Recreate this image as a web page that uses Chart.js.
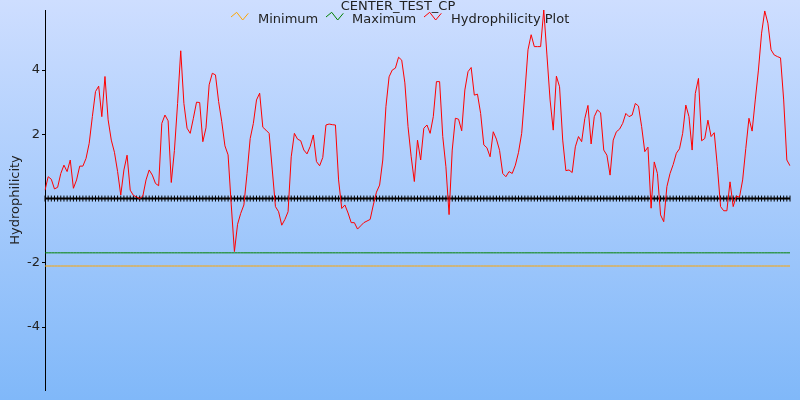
<!DOCTYPE html>
<html>
<head>
<meta charset="utf-8">
<script src="https://cdn.jsdelivr.net/npm/chart.js@4"></script>
<style>
  body { margin: 0; }
  #wrap {
    position: relative;
    width: 800px;
    height: 400px;
    background: linear-gradient(#cedeff, #80b8f9);
    font-family: "DejaVu Sans", sans-serif;
    font-size: 13px;
    color: #222;
  }
  #chart { position: absolute; left: 0; top: 0; }
  #title { position: absolute; top: -2px; left: 0; width: 796px; text-align: center; line-height: 15px; }
  .item { position: absolute; top: 11px; line-height: 15px; white-space: nowrap; }
  .icon { position: absolute; top: 11px; }
</style>
</head>
<body>
<div id="wrap">
  <canvas id="chart" width="800" height="400"></canvas>
  <div id="title">CENTER_TEST_CP</div>
  <svg class="icon" style="left:230px" width="20" height="11"><polyline points="1,6 6.7,1.3 12.7,9 18.3,2.3" fill="none" stroke="#ffa500" stroke-width="1"/></svg>
  <div class="item" style="left:258px">Minimum</div>
  <svg class="icon" style="left:325px" width="20" height="11"><polyline points="1,6 6.7,1.3 12.7,9 18.3,2.3" fill="none" stroke="#008000" stroke-width="1"/></svg>
  <div class="item" style="left:352px">Maximum</div>
  <svg class="icon" style="left:423px" width="20" height="11"><polyline points="1,6 6.7,1.3 12.7,9 18.3,2.3" fill="none" stroke="#ff0000" stroke-width="1"/></svg>
  <div class="item" style="left:451px">Hydrophilicity Plot</div>
</div>
<script>
// hydrophilicity per residue
const hydrophilicity = [
  0.26, 0.68, 0.6, 0.3, 0.35, 0.78, 1.04, 0.84, 1.2, 0.32,
  0.58, 1.01, 1.01, 1.25, 1.72, 2.55, 3.33, 3.5, 2.55, 3.8,
  2.45, 1.82, 1.44, 0.84, 0.11, 0.89, 1.35, 0.26, 0.1, 0.05,
  0.0, 0.08, 0.58, 0.89, 0.73, 0.47, 0.4, 2.34, 2.6, 2.42,
  0.5, 1.5, 2.96, 4.6, 2.96, 2.19, 2.03, 2.5,
  3.0, 2.99, 1.77, 2.2, 3.54, 3.9, 3.85, 3.02, 2.39, 1.64,
  1.36, -0.2, -1.65, -0.8, -0.46, -0.2, 0.78, 1.87, 2.34, 3.07,
  3.28, 2.22, 2.13, 2.03, 0.89, -0.25, -0.41, -0.83, -0.65, -0.41,
  1.3, 2.03, 1.85, 1.8, 1.51, 1.39, 1.62, 1.98, 1.15, 1.02,
  1.28, 2.29, 2.32, 2.3, 2.29, 0.58, -0.31,
  -0.2, -0.45, -0.75, -0.75, -0.95, -0.85, -0.75, -0.7, -0.65, -0.2,
  0.2, 0.42, 1.2, 2.86, 3.79, 4.0, 4.06, 4.4, 4.31, 3.6,
  2.24, 1.3, 0.53, 1.82, 1.2, 2.19, 2.29, 2.03, 2.55, 3.64,
  3.64, 1.93, 0.99, -0.5, 1.51, 2.5, 2.47, 2.11, 3.38, 3.95,
  4.08, 3.22, 3.25, 2.65, 1.67, 1.58, 1.3, 2.08,
  1.85, 1.5, 0.78, 0.68, 0.84, 0.78, 1.04, 1.44, 2.03, 3.28,
  4.63, 5.1, 4.73, 4.73, 4.73, 5.87, 4.47, 3.07, 2.13, 3.81,
  3.48, 1.82, 0.87, 0.89, 0.81, 1.61, 1.93, 1.77, 2.49, 2.9,
  1.7, 2.55, 2.76, 2.67, 1.51, 1.35, 0.73, 1.82, 2.08, 2.16,
  2.34, 2.65, 2.55, 2.6, 2.96, 2.88, 2.24, 1.46,
  1.6, -0.3, 1.14, 0.78, -0.51, -0.72, 0.37, 0.78, 1.06, 1.41,
  1.55, 2.03, 2.91, 2.55, 1.51, 3.27, 3.74, 1.8, 1.87, 2.44,
  1.93, 2.05, 0.99, -0.25, -0.38, -0.38, 0.52, -0.25, 0.08, 0.04,
  0.58, 1.56, 2.5, 2.1, 3.07, 4.0, 5.15, 5.84, 5.46, 4.63,
  4.47, 4.42, 4.38, 3.07, 1.2, 1.02,
];
const residues = hydrophilicity.map((_, i) => i + 1);
const maximumLevel = -1.69;
const minimumLevel = -2.1;
const yTicks = [-4, -2, 2, 4];
const yMin = -5.96;
const yMax = 5.87;

const font = { family: "DejaVu Sans", size: 13 };

const chart = new Chart(document.getElementById("chart"), {
  type: "line",
  data: {
    labels: residues,
    datasets: [
      {
        label: "Hydrophilicity Plot",
        data: hydrophilicity,
        borderColor: "#ff0000",
        borderWidth: 1,
        pointRadius: 0,
      },
      {
        label: "Maximum",
        data: residues.map(() => maximumLevel),
        borderColor: "#008000",
        borderWidth: 1,
        pointRadius: 0,
      },
      {
        label: "Minimum",
        data: residues.map(() => minimumLevel),
        borderColor: "#ffa500",
        borderWidth: 1,
        pointRadius: 0,
      },
      {
        label: "zero",
        data: residues.map(() => 0),
        borderColor: "#000",
        borderWidth: 2,
        pointStyle: "line",
        pointRotation: 90,
        pointRadius: 3,
        pointBorderWidth: 1,
        pointBorderColor: "#000",
      },
    ],
  },
  options: {
    responsive: false,
    animation: false,
    devicePixelRatio: 1,
    layout: { padding: { top: 10, right: 10, bottom: 10, left: 0 } },
    plugins: {
      legend: { display: false },
      tooltip: { enabled: false },
    },
    elements: { line: { tension: 0 } },
    scales: {
      x: { display: false },
      y: {
        min: yMin,
        max: yMax,
        afterFit: (axis) => {
          axis.width = 45;
        },
        afterBuildTicks: (axis) => {
          axis.ticks = yTicks.map((v) => ({ value: v }));
        },
        ticks: { color: "#222", font: font, padding: 2 },
        grid: { drawOnChartArea: false, tickLength: 3, color: "#000" },
        border: { color: "#000", width: 1 },
        title: {
          display: true,
          text: "Hydrophilicity",
          color: "#222",
          font: font,
          padding: { top: 8, bottom: 0 },
        },
      },
    },
  },
});
</script>
</body>
</html>
